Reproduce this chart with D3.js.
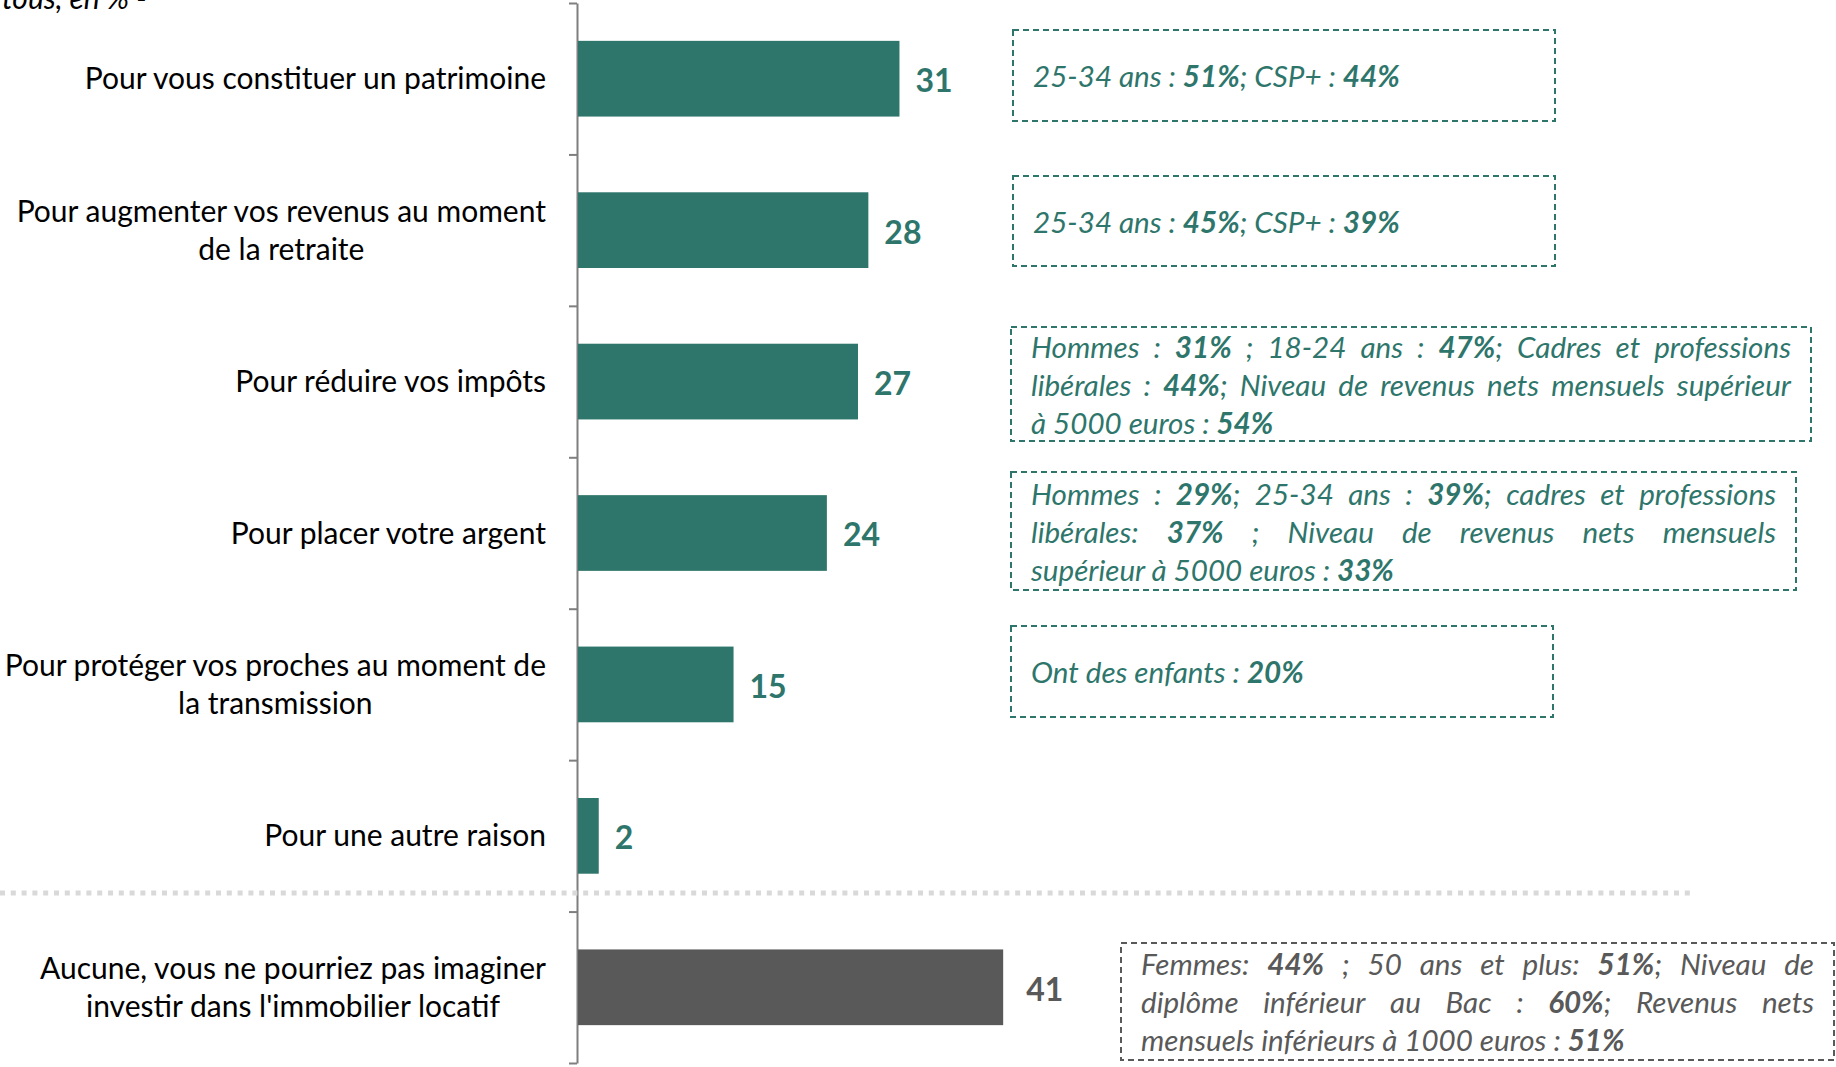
<!DOCTYPE html>
<html>
<head>
<meta charset="utf-8">
<script src="https://cdn.jsdelivr.net/npm/d3@7"></script>
<style>
  body { margin: 0; background: #fff; }
  svg { display: block; font-family: Lato, "Open Sans", sans-serif; }
</style>
</head>
<body>
<div id="chart"></div>
<script>
// categories (label lines), values and annotation texts
var categories = [
    ["Pour vous constituer un patrimoine"],
    ["Pour augmenter vos revenus au moment", "de la retraite"],
    ["Pour réduire vos impôts"],
    ["Pour placer votre argent"],
    ["Pour protéger vos proches au moment de", "la transmission"],
    ["Pour une autre raison"],
    ["Aucune, vous ne pourriez pas imaginer", "investir dans l'immobilier locatif"]
];
var values = [31, 28, 27, 24, 15, 2, 41];
var groups = ["raison", "raison", "raison", "raison", "raison", "raison", "aucune"];

// ** marks the bold part
var notes = [
    ["25-34 ans : **51%**; CSP+ : **44%**"],
    ["25-34 ans : **45%**; CSP+ : **39%**"],
    ["Hommes : **31%** ; 18-24 ans : **47%**; Cadres et professions",
     "libérales : **44%**; Niveau de revenus nets mensuels supérieur",
     "à 5000 euros : **54%**"],
    ["Hommes : **29%**; 25-34 ans : **39%**; cadres et professions",
     "libérales: **37%** ; Niveau de revenus nets mensuels",
     "supérieur à 5000 euros : **33%**"],
    ["Ont des enfants : **20%**"],
    null,
    ["Femmes: **44%** ; 50 ans et plus: **51%**; Niveau de",
     "diplôme inférieur au Bac : **60%**; Revenus nets",
     "mensuels inférieurs à 1000 euros : **51%**"]
];
var topText = "tous, en % -";

// layout of the note boxes
var noteBoxes = [
    {x: 1013, y: 30, w: 542, h: 91},
    {x: 1013, y: 176, w: 542, h: 90},
    {x: 1011, y: 327, w: 800, h: 114},
    {x: 1011, y: 472, w: 785, h: 118},
    {x: 1011, y: 626, w: 542, h: 91},
    null,
    {x: 1121, y: 943, w: 713, h: 117}
];

var colors = {raison: "#2e766b", aucune: "#595959"};
var width = 1836, height = 1067;
var fontSize = 30, noteSize = 29.6, lineGap = 38;

var svg = d3.select("#chart").append("svg")
    .attr("width", width)
    .attr("height", height);

var y = d3.scaleBand()
    .domain(d3.range(categories.length))
    .range([3, 1063])
    .paddingInner(0.5)
    .paddingOuter(0.25);

var x = d3.scaleLinear()
    .domain([0, 50])
    .range([578, 578 + 518.5]);

// axis with ticks between the bands
var tickScale = d3.scaleLinear().domain([0, categories.length]).range(y.range());
svg.append("g")
    .attr("transform", "translate(577,0)")
    .call(d3.axisLeft(tickScale).tickValues(d3.range(categories.length + 1))
        .tickSize(8).tickSizeOuter(0).tickFormat(""))
    .call(g => g.selectAll("path, line").attr("stroke", "#7f7f7f").attr("stroke-width", 2));

// separator
svg.append("line")
    .attr("x1", 0).attr("x2", 1690)
    .attr("y1", 893).attr("y2", 893)
    .attr("stroke", "#d9d9d9")
    .attr("stroke-width", 5)
    .attr("stroke-dasharray", "5,5.8");

svg.selectAll("rect.bar")
    .data(values)
    .enter()
    .append("rect")
    .attr("class", "bar")
    .attr("x", x(0))
    .attr("y", (d, i) => y(i))
    .attr("width", d => x(d) - x(0))
    .attr("height", y.bandwidth())
    .attr("fill", (d, i) => colors[groups[i]]);

svg.selectAll("text.value")
    .data(values)
    .enter()
    .append("text")
    .attr("class", "value")
    .attr("x", (d, i) => x(d) + (groups[i] == "aucune" ? 23 : 16))
    .attr("y", (d, i) => y(i) + y.bandwidth() / 2)
    .attr("dy", "0.42em")
    .attr("font-size", 32)
    .attr("font-weight", "bold")
    .attr("fill", (d, i) => colors[groups[i]])
    .text(d => d);

// category labels: block right aligned, lines centred inside it
categories.forEach(function(lines, i) {
    var cy = y(i) + y.bandwidth() / 2;
    var g = svg.append("g");
    var texts = lines.map(function(l, j) {
        return g.append("text")
            .attr("y", cy + (j - (lines.length - 1) / 2) * lineGap)
            .attr("dy", "0.35em")
            .attr("font-size", fontSize)
            .attr("fill", "#000")
            .attr("text-anchor", "middle")
            .text(l);
    });
    var maxW = d3.max(texts, t => t.node().getComputedTextLength());
    texts.forEach(t => t.attr("x", 546 - maxW / 2));
});

svg.append("text")
    .attr("x", 2).attr("y", 9)
    .attr("font-size", fontSize)
    .attr("font-style", "italic")
    .text(topText);

function parts(str) {
    return str.split("**").map((s, k) => ({t: s, b: k % 2 == 1})).filter(p => p.t.length);
}

function addSpans(textSel, ps) {
    ps.forEach(function(p) {
        textSel.append("tspan")
            .attr("font-weight", p.b ? "bold" : null)
            .text(p.t);
    });
}

// note boxes
notes.forEach(function(lines, i) {
    if (!lines) return;
    var b = noteBoxes[i];
    var col = colors[groups[i]];
    var g = svg.append("g");
    g.append("rect")
        .attr("x", b.x).attr("y", b.y)
        .attr("width", b.w).attr("height", b.h)
        .attr("fill", "none")
        .attr("stroke", col)
        .attr("stroke-width", 2)
        .attr("stroke-dasharray", "6,4");
    var left = b.x + 20, right = b.x + b.w - 20;
    var cy = b.y + b.h / 2;
    lines.forEach(function(line, j) {
        var ly = cy + (j - (lines.length - 1) / 2) * lineGap;
        var justify = lines.length > 1 && j < lines.length - 1;
        if (!justify) {
            var t = g.append("text")
                .attr("x", left).attr("y", ly).attr("dy", "0.4em")
                .attr("font-size", noteSize).attr("font-style", "italic")
                .attr("fill", col)
                .attr("xml:space", "preserve");
            addSpans(t, parts(line));
            return;
        }
        // split into words, keep bold flags
        var boldOpen = false;
        var tokens = line.split(" ").map(function(w) {
            var segs = w.split("**");
            var ps = [];
            segs.forEach(function(s, k) {
                if (k > 0) boldOpen = !boldOpen;
                if (s.length) ps.push({t: s, b: boldOpen});
            });
            return ps;
        }).filter(ps => ps.length);
        var nodes = tokens.map(function(ps) {
            var t = g.append("text")
                .attr("y", ly).attr("dy", "0.4em")
                .attr("font-size", noteSize).attr("font-style", "italic")
                .attr("fill", col);
            addSpans(t, ps);
            return t;
        });
        var widths = nodes.map(t => t.node().getComputedTextLength());
        var gap = (right - left - d3.sum(widths)) / (nodes.length - 1);
        var cx = left;
        nodes.forEach(function(t, k) {
            t.attr("x", cx);
            cx += widths[k] + gap;
        });
    });
});
</script>
</body>
</html>
